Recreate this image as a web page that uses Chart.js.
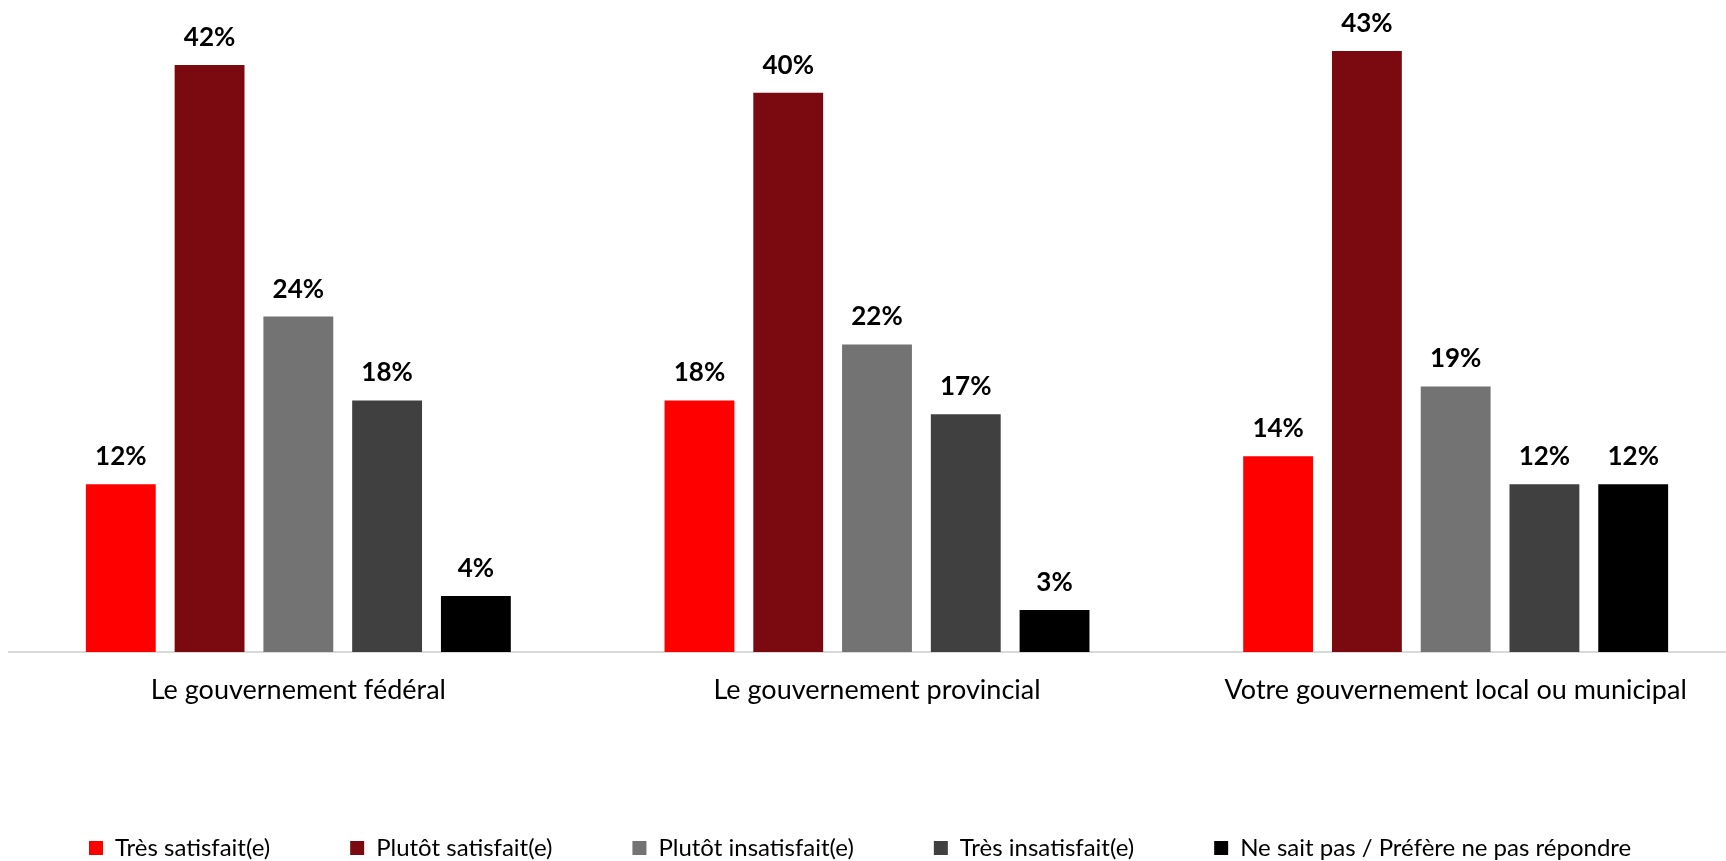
<!DOCTYPE html>
<html lang="fr">
<head>
    <meta charset="UTF-8">
    <title>Satisfaction envers les gouvernements</title>
    <style>
        html, body { margin: 0; padding: 0; background: #fff; overflow: hidden; }
        #chart { display: block; }
    </style>
</head>
<body>
    <canvas id="chart" width="1745" height="870"></canvas>

    <script src="https://cdn.jsdelivr.net/npm/chart.js"></script>
    <script>
        // catégories et séries
        const categories = ["Le gouvernement fédéral", "Le gouvernement provincial", "Votre gouvernement local ou municipal"];
        const seriesNames = ["Très satisfait(e)", "Plutôt satisfait(e)", "Plutôt insatisfait(e)", "Très insatisfait(e)", "Ne sait pas / Préfère ne pas répondre"];
        const tresSatisfait = [12, 18, 14];
        const plutotSatisfait = [42, 40, 43];
        const plutotInsatisfait = [24, 22, 19];
        const tresInsatisfait = [18, 17, 12];
        const neSaitPas = [4, 3, 12];

        const colors = ["#ff0000", "#7b0a10", "#737373", "#404040", "#000000"];
        const values = [tresSatisfait, plutotSatisfait, plutotInsatisfait, tresInsatisfait, neSaitPas];

        // étiquettes de pourcentage au-dessus des barres
        const barLabels = {
            id: "barLabels",
            afterDatasetsDraw(chart) {
                const ctx = chart.ctx;
                ctx.save();
                ctx.font = "bold 26px Lato";
                ctx.fillStyle = "#000";
                ctx.textAlign = "center";
                ctx.textBaseline = "alphabetic";
                chart.data.datasets.forEach((ds, i) => {
                    chart.getDatasetMeta(i).data.forEach((bar, j) => {
                        ctx.fillText(ds.data[j] + "%", bar.x, bar.y - 19);
                    });
                });
                ctx.restore();
            }
        };

        const ctx = document.getElementById("chart").getContext("2d");

        new Chart(ctx, {
            type: "bar",
            data: {
                labels: categories,
                datasets: seriesNames.map((name, i) => ({
                    label: name,
                    data: values[i],
                    backgroundColor: colors[i],
                    borderWidth: 0,
                    categoryPercentage: 0.767,
                    barPercentage: 0.787,
                })),
            },
            options: {
                responsive: false,
                animation: false,
                devicePixelRatio: 1,
                layout: { padding: { top: 9, left: 9, right: 0, bottom: 0 } },
                scales: {
                    x: {
                        grid: { display: false, drawTicks: false },
                        border: { display: true, color: "#d9d9d9", width: 2 },
                        ticks: {
                            color: "#000",
                            padding: 22,
                            font: { family: "Lato", size: 27 },
                        },
                        afterFit: (scale) => { scale.height = 104; },
                    },
                    y: {
                        display: false,
                        min: 0,
                        max: 46,
                    },
                },
                plugins: {
                    legend: {
                        position: "bottom",
                        align: "start",
                        labels: {
                            boxWidth: 14,
                            boxHeight: 14,
                            padding: 80,
                            color: "#000",
                            font: { family: "Lato", size: 24 },
                        },
                    },
                    tooltip: { enabled: false },
                },
            },
            plugins: [barLabels],
        });
    </script>
</body>
</html>
